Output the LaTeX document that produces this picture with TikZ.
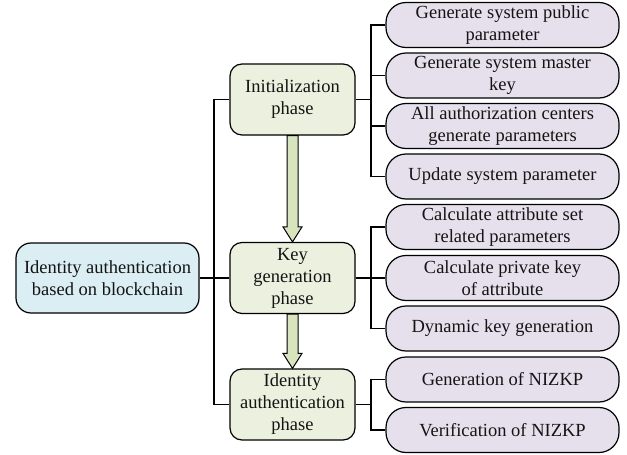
\documentclass[tikz,border=0pt]{standalone}
\usepackage{fontspec}
\setmainfont{Liberation Serif}
\usetikzlibrary{calc}

\definecolor{rootfill}{RGB}{218,238,243}
\definecolor{phasefill}{RGB}{235,241,222}
\definecolor{leaffill}{RGB}{229,224,236}
\definecolor{arrowfill}{RGB}{215,228,189}
\definecolor{inkdark}{RGB}{20,20,20}

\tikzset{
  base/.style={draw=black, line width=1.2pt, align=center, text=inkdark,
    font=\fontsize{18.5}{22}\selectfont, inner sep=0pt},
  rootbox/.style={base, fill=rootfill, rounded corners=15pt,
    minimum width=183pt, minimum height=70pt},
  phasebox/.style={base, fill=phasefill, rounded corners=12pt,
    minimum width=125pt, minimum height=71pt},
  leafbox/.style={base, fill=leaffill, rounded corners=20pt,
    minimum width=233pt, minimum height=45pt},
  link/.style={draw=black, line width=1.2pt},
  flow/.style={draw=black, line width=1pt, fill=arrowfill, line join=miter},
}

% block arrow from the bottom of one phase box to the top of the next
\newcommand{\phasearrow}[2]{%
  \path[flow] ($(#1.south)+(-5.5,0)$) -- ($(#1.south)+(5.5,0)$)
    -- ($(#2.north)+(5.5,-15)$) -- ($(#2.north)+(9.5,-15)$)
    -- (#2.north) -- ($(#2.north)+(-9.5,-15)$)
    -- ($(#2.north)+(-5.5,-15)$) -- cycle;}

\begin{document}
\begin{tikzpicture}[x=1pt,y=-1pt]
  \useasboundingbox (0,0) rectangle (627,455);

  % root and phases
  \node[rootbox] (root) at (107.5,278) {Identity authentication\\based on blockchain};
  \node[phasebox] (init) at (292.5,99.5) {Initialization\\phase};
  \node[phasebox] (keyg) at (292.5,278) {Key\\generation\\phase};
  \node[phasebox] (ident) at (292.5,404.5) {Identity\\authentication\\phase};

  % steps of each phase
  \node[leafbox] (a1) at (502.5,25) {Generate system public\\parameter};
  \node[leafbox] (a2) at (502.5,75.5) {Generate system master\\key};
  \node[leafbox] (a3) at (502.5,126) {All authorization centers\\generate parameters};
  \node[leafbox] (a4) at (502.5,176.5) {Update system parameter};
  \node[leafbox] (b1) at (502.5,227) {Calculate attribute set\\related parameters};
  \node[leafbox] (b2) at (502.5,278) {Calculate private key\\of attribute};
  \node[leafbox] (b3) at (502.5,328.5) {Dynamic key generation};
  \node[leafbox] (c1) at (502.5,379.5) {Generation of NIZKP};
  \node[leafbox] (c2) at (502.5,430) {Verification of NIZKP};

  % trunk joining the root to the phases
  \coordinate (trunk) at (214,0);
  \draw[link] (root.east) -- (keyg.west);
  \draw[link] (init.west) -- (init.west -| trunk) -- (ident.west -| trunk) -- (ident.west);

  % branches from phases to their steps
  \coordinate (br) at (371,0);
  \foreach \leaf in {a1,a2,a3,a4}
    \draw[link] (init.east) -- (init.east -| br) |- (\leaf.west);
  \foreach \leaf in {b1,b2,b3}
    \draw[link] (keyg.east) -- (keyg.east -| br) |- (\leaf.west);
  \foreach \leaf in {c1,c2}
    \draw[link] (ident.east) -- (ident.east -| br) |- (\leaf.west);

  % order of the phases
  \phasearrow{init}{keyg}
  \phasearrow{keyg}{ident}
\end{tikzpicture}
\end{document}
